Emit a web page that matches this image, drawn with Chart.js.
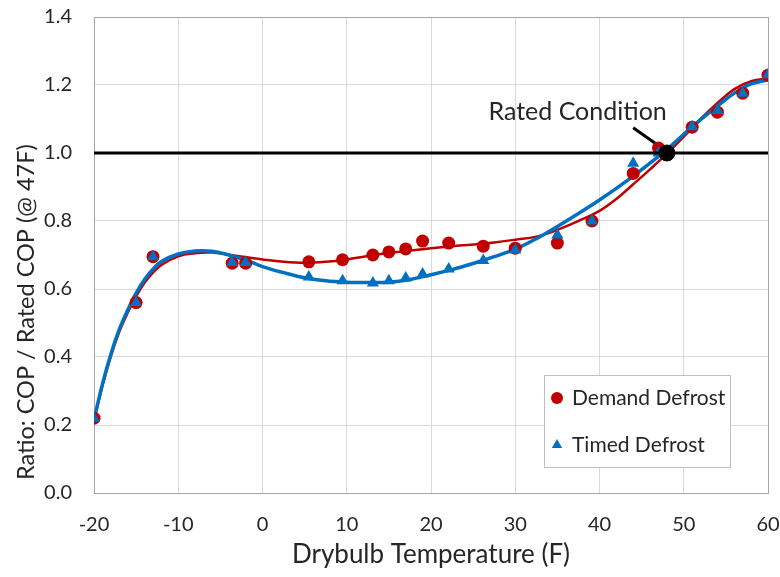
<!DOCTYPE html>
<html>
<head>
<meta charset="utf-8">
<script src="https://cdn.jsdelivr.net/npm/chart.js@4/dist/chart.umd.min.js"></script>
<style>
  html, body { margin: 0; padding: 0; background: #ffffff; }
  #wrap { width: 780px; height: 577px; }
</style>
</head>
<body>
<div id="wrap"><canvas id="c" width="780" height="577"></canvas></div>
<script>
// ---- data ----
const demandTemp = [-20, -15, -13, -3.6, -2, 5.5, 9.5, 13.1, 15, 17, 19, 22.1, 26.2, 30, 35, 39.1, 44, 47, 51, 54, 57, 60];
const demandCOP  = [0.22, 0.56, 0.695, 0.676, 0.676, 0.68, 0.686, 0.70, 0.709, 0.718, 0.741, 0.735, 0.726, 0.72, 0.735, 0.80, 0.94, 1.015, 1.076, 1.12, 1.176, 1.229];

const timedTemp = [-20, -15, -13, -3.6, -2, 5.5, 9.5, 13.1, 15, 17, 19, 22.1, 26.2, 30, 35, 39.1, 44, 47, 51, 54, 57, 60];
const timedCOP  = [0.22, 0.56, 0.695, 0.678, 0.678, 0.635, 0.624, 0.618, 0.624, 0.632, 0.644, 0.659, 0.684, 0.715, 0.759, 0.80, 0.97, 1.0, 1.077, 1.125, 1.176, 1.23];

// fitted trend curves
const curveTemp = [-20, -19, -18, -17, -16, -15, -14, -13, -12, -10, -8, -6, -4, -2, 0, 2.5, 5, 7.5, 10, 12.5, 15, 17.5, 20, 22.5, 25, 27.5, 30, 32.5, 35, 37.5, 40, 42, 44, 46, 48, 50, 52, 54, 56, 58, 60];
const demandFit = [0.215, 0.315, 0.402, 0.474, 0.53, 0.578, 0.618, 0.648, 0.671, 0.696, 0.705, 0.707, 0.701, 0.694, 0.687, 0.68, 0.677, 0.68, 0.687, 0.697, 0.706, 0.713, 0.72, 0.726, 0.731, 0.737, 0.745, 0.754, 0.774, 0.80, 0.83, 0.865, 0.908, 0.952, 0.998, 1.048, 1.10, 1.147, 1.188, 1.211, 1.219];
const timedFit  = [0.215, 0.32, 0.408, 0.481, 0.538, 0.588, 0.628, 0.658, 0.681, 0.703, 0.712, 0.711, 0.70, 0.685, 0.666, 0.648, 0.633, 0.624, 0.62, 0.619, 0.62, 0.628, 0.642, 0.657, 0.675, 0.695, 0.717, 0.748, 0.784, 0.822, 0.862, 0.896, 0.932, 0.97, 1.01, 1.055, 1.098, 1.138, 1.176, 1.203, 1.215];

const ratedTemp = [48];
const ratedCOP = [1.0];
const refLineTemp = [-20, 60];
const refLineCOP = [1.0, 1.0];
const arrowTemp = [44.0, 47.4];
const arrowCOP = [1.074, 1.015];
const ratedLabel = "Rated Condition";
const ratedLabelPos = [37.4, 1.12];

const xTicks = [-20, -10, 0, 10, 20, 30, 40, 50, 60];
const yTicks = [0.0, 0.2, 0.4, 0.6, 0.8, 1.0, 1.2, 1.4];

const seriesNames = ["Demand Defrost", "Timed Defrost"];
const xTitle = "Drybulb Temperature (F)";
const yTitle = "Ratio: COP / Rated COP (@ 47F)";

// ---- helpers ----
const pts = (xs, ys) => xs.map((x, i) => ({ x: x, y: ys[i] }));
const RED = '#C00000';
const BLUE = '#0070C0';
const FONT = 'Lato, "Open Sans", sans-serif';
const TXT = '#262626';

const legendPlugin = {
  id: 'innerLegend',
  afterDraw(chart) {
    const ctx = chart.ctx;
    const a = chart.chartArea;
    const bx = a.right - 224, by = a.bottom - 118, bw = 186, bh = 92;
    ctx.save();
    ctx.fillStyle = '#ffffff';
    ctx.fillRect(bx, by, bw, bh);
    ctx.strokeStyle = '#bfbfbf';
    ctx.lineWidth = 1;
    ctx.strokeRect(bx + 0.5, by + 0.5, bw, bh);
    const items = [
      { ds: chart.data.datasets[3], y: by + 23 },
      { ds: chart.data.datasets[2], y: by + 70 }
    ];
    ctx.font = '21px ' + FONT;
    ctx.textBaseline = 'middle';
    ctx.textAlign = 'left';
    items.forEach(it => {
      ctx.fillStyle = it.ds.backgroundColor;
      ctx.strokeStyle = it.ds.backgroundColor;
      Chart.helpers.drawPoint(ctx, {
        pointStyle: it.ds.pointStyle,
        radius: 6,
        rotation: 0,
        borderWidth: 0
      }, bx + 13, it.y);
      ctx.fillStyle = TXT;
      ctx.fillText(it.ds.label, bx + 28, it.y);
    });
    ctx.restore();
  }
};

const annotPlugin = {
  id: 'annot',
  afterDatasetsDraw(chart) {
    const ctx = chart.ctx;
    const xs = chart.scales.x, ys = chart.scales.y;
    ctx.save();
    ctx.font = '25px ' + FONT;
    ctx.fillStyle = TXT;
    ctx.textAlign = 'center';
    ctx.textBaseline = 'middle';
    ctx.fillText(ratedLabel, xs.getPixelForValue(ratedLabelPos[0]), ys.getPixelForValue(ratedLabelPos[1]));
    ctx.restore();
  },
  beforeDatasetsDraw(chart) {
    const a = chart.chartArea;
    const ctx = chart.ctx;
    ctx.save();
    ctx.strokeStyle = '#a6a6a6';
    ctx.lineWidth = 1;
    ctx.strokeRect(Math.round(a.left) + 0.5, Math.round(a.top) + 0.5, Math.round(a.right - a.left), Math.round(a.bottom - a.top));
    ctx.restore();
  }
};

new Chart(document.getElementById('c'), {
  type: 'scatter',
  data: {
    datasets: [
      { label: 'Rated', data: pts(ratedTemp, ratedCOP), backgroundColor: '#000000', borderColor: '#000000', pointRadius: 8, pointStyle: 'circle', order: 0 },
      { label: 'ref', data: pts(refLineTemp, refLineCOP), showLine: true, borderColor: '#000000', borderWidth: 3, pointRadius: 0, order: 1 },
      { label: seriesNames[1], data: pts(timedTemp, timedCOP), backgroundColor: BLUE, borderColor: BLUE, borderWidth: 0, pointStyle: 'triangle', pointRadius: 7, order: 2 },
      { label: seriesNames[0], data: pts(demandTemp, demandCOP), backgroundColor: RED, borderColor: RED, borderWidth: 0, pointStyle: 'circle', pointRadius: 6.5, order: 3 },
      { label: 'arrow', data: pts(arrowTemp, arrowCOP), showLine: true, borderColor: '#000000', borderWidth: 3, pointRadius: 0, order: 4 },
      { label: 'Timed fit', data: pts(curveTemp, timedFit), showLine: true, borderColor: BLUE, borderWidth: 3.5, pointRadius: 0, tension: 0.4, order: 5 },
      { label: 'Demand fit', data: pts(curveTemp, demandFit), showLine: true, borderColor: RED, borderWidth: 2.5, pointRadius: 0, tension: 0.4, order: 6 }
    ]
  },
  options: {
    responsive: false,
    animation: false,
    events: [],
    layout: { padding: { left: 10, right: 12, top: 17, bottom: 4 } },
    plugins: { legend: { display: false }, tooltip: { enabled: false } },
    scales: {
      x: {
        type: 'linear', min: -20, max: 60,
        afterBuildTicks: s => { s.ticks = xTicks.map(v => ({ value: v })); },
        grid: { color: '#d9d9d9', lineWidth: 1, drawTicks: false },
        border: { display: false },
        ticks: { padding: 20, color: TXT, font: { family: FONT, size: 20 }, callback: v => String(v) },
        title: { display: true, text: xTitle, color: TXT, font: { family: FONT, size: 26 }, padding: { top: 2, bottom: 3 } },
        afterFit: s => { s.height = 577 - 493 - 4; s.paddingLeft = 0; s.paddingRight = 0; }
      },
      y: {
        type: 'linear', min: 0, max: 1.4,
        afterBuildTicks: s => { s.ticks = yTicks.map(v => ({ value: v })); },
        grid: { color: '#d9d9d9', lineWidth: 1, drawTicks: false },
        border: { display: false },
        ticks: { padding: 22, color: TXT, font: { family: FONT, size: 20 }, callback: v => Number(v).toFixed(1) },
        title: { display: true, text: yTitle + '                   ', color: TXT, font: { family: FONT, size: 23.5 }, padding: { top: 2, bottom: 2 } },
        afterFit: s => { s.width = 94 - 10; s.paddingTop = 0; s.paddingBottom = 0; }
      }
    }
  },
  plugins: [legendPlugin, annotPlugin]
});
</script>
</body>
</html>
